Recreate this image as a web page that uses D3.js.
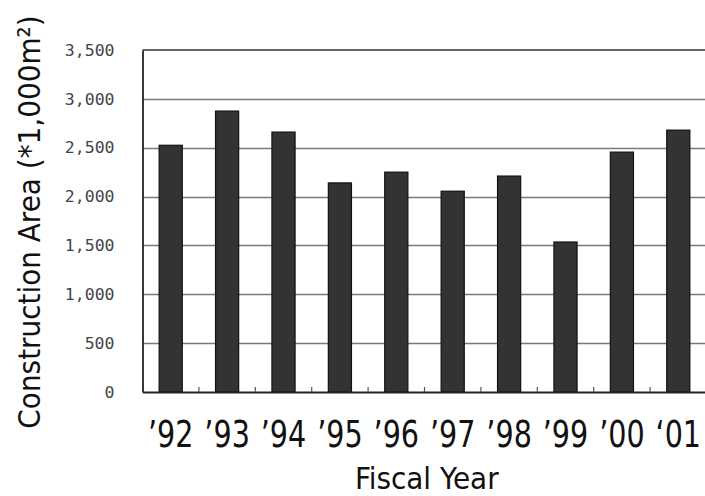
<!DOCTYPE html>
<html>
<head>
<meta charset="utf-8">
<script src="https://cdn.jsdelivr.net/npm/d3@7"></script>
<style>
  html, body { margin: 0; padding: 0; background: #fff; }
  svg { display: block; }
</style>
</head>
<body>
<svg id="chart" width="705" height="496"></svg>
<script>
const years = ["’92", "’93", "’94", "’95", "’96", "’97", "’98", "’99", "’00", "‘01"];
const values = [2525, 2875, 2660, 2140, 2250, 2055, 2210, 1535, 2455, 2680];
const yTicks = [0, 500, 1000, 1500, 2000, 2500, 3000, 3500];
const yTitle = "Construction Area (*1,000m²)";
const xTitle = "Fiscal Year";

const svg = d3.select("#chart");
const plotLeft = 142.5, plotRight = 706.5, plotTop = 50, plotBottom = 392;

const x = d3.scaleBand().domain(years).range([plotLeft, plotRight])
  .paddingInner(0.59).paddingOuter(0.295);
const y = d3.scaleLinear().domain([0, 3500]).range([plotBottom, plotTop]);

const sansFont = "'DejaVu Sans Condensed', 'DejaVu Sans', sans-serif";

// gridlines
svg.append("g").selectAll("line")
  .data(yTicks.filter(d => d > 0 && d < 3500))
  .join("line")
  .attr("x1", plotLeft).attr("x2", plotRight)
  .attr("y1", d => Math.round(y(d)) + 0.5).attr("y2", d => Math.round(y(d)) + 0.5)
  .attr("stroke", "#7a7a7a").attr("stroke-width", 1.6);

// top frame
svg.append("line")
  .attr("x1", plotLeft).attr("x2", plotRight)
  .attr("y1", y(3500)).attr("y2", y(3500))
  .attr("stroke", "#333").attr("stroke-width", 1.6);

// y axis (labels only, no ticks)
const yAxis = d3.axisLeft(y).tickValues(yTicks).tickSize(0).tickPadding(28)
  .tickFormat(d3.format(","));
const gy = svg.append("g").attr("transform", `translate(${plotLeft},0)`).call(yAxis);
gy.select(".domain").attr("stroke", "#222").attr("stroke-width", 1.8);
gy.selectAll("text")
  .attr("font-family", "'DejaVu Sans Mono', monospace")
  .attr("font-size", 16.5)
  .attr("fill", "#444");

// bars
svg.append("g").selectAll("rect")
  .data(values)
  .join("rect")
  .attr("x", (d, i) => x(years[i]))
  .attr("y", d => y(d))
  .attr("width", x.bandwidth())
  .attr("height", d => y(0) - y(d))
  .attr("fill", "#333333")
  .attr("stroke", "#111")
  .attr("stroke-width", 1.2);

// x axis
const xAxis = d3.axisBottom(x).tickSize(0).tickPadding(29);
const gx = svg.append("g").attr("transform", `translate(0,${plotBottom})`).call(xAxis);
gx.select(".domain").attr("stroke", "#222").attr("stroke-width", 1.8);
gx.selectAll("text")
  .attr("font-family", sansFont)
  .attr("font-size", 37)
  .attr("fill", "#111")
  .attr("transform", "scale(0.86,1)");

// inner tick marks at band boundaries
const gap = (x.step() - x.bandwidth()) / 2;
svg.append("g").selectAll("line")
  .data(years.slice(1))
  .join("line")
  .attr("x1", d => x(d) - gap).attr("x2", d => x(d) - gap)
  .attr("y1", plotBottom).attr("y2", plotBottom - 5)
  .attr("stroke", "#555").attr("stroke-width", 1.2);

// titles
svg.append("text")
  .attr("transform", `translate(${40},${plotTop + (plotBottom - plotTop) / 2 + 1}) rotate(-90)`)
  .attr("text-anchor", "middle")
  .attr("font-family", sansFont)
  .attr("font-size", 31)
  .attr("fill", "#111")
  .text(yTitle);

svg.append("text")
  .attr("x", (plotLeft + 705) / 2 + 3)
  .attr("y", 489)
  .attr("text-anchor", "middle")
  .attr("font-family", sansFont)
  .attr("font-size", 31)
  .attr("fill", "#111")
  .text(xTitle);
</script>
</body>
</html>
